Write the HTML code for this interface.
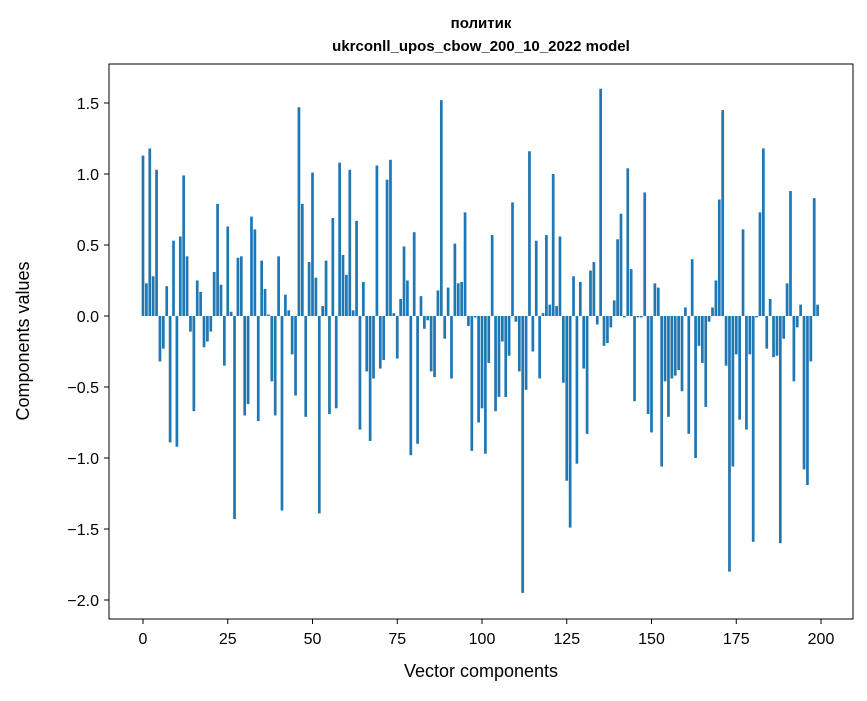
<!DOCTYPE html>
<html><head><meta charset="utf-8"><style>
body{margin:0;background:#fff;}
svg text{font-family:"Liberation Sans","DejaVu Sans",sans-serif;fill:#000;}
</style></head><body>
<svg id="chart" width="867" height="696" xmlns="http://www.w3.org/2000/svg">
<rect width="867" height="696" fill="#fff"/>
<text x="481" y="28" text-anchor="middle" font-size="15" font-weight="bold">политик</text>
<text x="481" y="51" text-anchor="middle" font-size="15" font-weight="bold">ukrconll_upos_cbow_200_10_2022 model</text>
<g id="bars"></g>
<g id="axes"></g>
<rect x="109" y="64" width="744" height="555" fill="none" stroke="#000" stroke-width="1"/>
<text x="481" y="677" text-anchor="middle" font-size="18">Vector components</text>
<text transform="translate(29,341) rotate(-90)" text-anchor="middle" font-size="18">Components values</text>
</svg>
<script>
const values = [1.13,0.23,1.18,0.28,1.03,-0.32,-0.23,0.21,-0.89,0.53,-0.92,0.56,0.99,0.42,-0.11,-0.67,0.25,0.17,-0.22,-0.18,
-0.11,0.31,0.79,0.22,-0.35,0.63,0.03,-1.43,0.41,0.42,-0.70,-0.62,0.70,0.61,-0.74,0.39,0.19,0.01,-0.46,-0.70,
0.42,-1.37,0.15,0.04,-0.27,-0.56,1.47,0.79,-0.71,0.38,1.01,0.27,-1.39,0.07,0.39,-0.69,0.69,-0.65,1.08,0.43,
0.29,1.03,0.04,0.67,-0.80,0.24,-0.39,-0.88,-0.44,1.06,-0.37,-0.31,0.96,1.10,0.02,-0.30,0.12,0.49,0.25,-0.98,
0.59,-0.90,0.14,-0.09,-0.03,-0.39,-0.43,0.18,1.52,-0.16,0.20,-0.44,0.51,0.23,0.24,0.73,-0.07,-0.95,-0.01,-0.75,
-0.65,-0.97,-0.33,0.57,-0.67,-0.57,-0.18,-0.57,-0.28,0.80,-0.04,-0.39,-1.95,-0.52,1.16,-0.25,0.53,-0.44,0.02,0.57,
0.08,1.00,0.07,0.56,-0.47,-1.16,-1.49,0.28,-1.04,0.24,-0.37,-0.83,0.32,0.38,-0.06,1.60,-0.21,-0.19,-0.08,0.11,
0.54,0.72,-0.01,1.04,0.33,-0.60,-0.01,-0.01,0.87,-0.69,-0.82,0.23,0.20,-1.06,-0.46,-0.71,-0.44,-0.42,-0.38,-0.53,
0.06,-0.83,0.40,-1.00,-0.21,-0.33,-0.64,-0.04,0.06,0.25,0.82,1.45,-0.35,-1.80,-1.06,-0.27,-0.73,0.61,-0.80,-0.27,
-1.59,-0.01,0.73,1.18,-0.23,0.12,-0.29,-0.28,-1.60,-0.16,0.23,0.88,-0.46,-0.08,0.08,-1.08,-1.19,-0.32,0.83,0.08];
const xTicks = [0,25,50,75,100,125,150,175,200];
const yTicks = [1.5,1.0,0.5,0.0,-0.5,-1.0,-1.5,-2.0];
const yTickLabels = ["1.5","1.0","0.5","0.0","\u22120.5","\u22121.0","\u22121.5","\u22122.0"];

const NS="http://www.w3.org/2000/svg";
function xs(v){return 143+(v*678/200);}
function ys(v){return 316-v*142;}
const bars=document.getElementById('bars');
values.forEach((v,i)=>{
  const r=document.createElementNS(NS,'rect');
  
  
  const x0=xs(i-0.4), x1=xs(i+0.4);
  r.setAttribute('x',x0);r.setAttribute('width',x1-x0);
  r.setAttribute('y',Math.min(ys(v),ys(0)));
  r.setAttribute('height',Math.abs(ys(v)-ys(0)));
  r.setAttribute('fill','#1f77b4');
  bars.appendChild(r);
});
const axes=document.getElementById('axes');
xTicks.forEach(t=>{
  const l=document.createElementNS(NS,'line');
  
  
  l.setAttribute('x1',xs(t));l.setAttribute('x2',xs(t));l.setAttribute('y1',619);l.setAttribute('y2',624);
  l.setAttribute('stroke','#000');axes.appendChild(l);
  const tx=document.createElementNS(NS,'text');
  
  
  tx.setAttribute('x',xs(t));tx.setAttribute('y',644);tx.setAttribute('text-anchor','middle');tx.setAttribute('font-size','16');
  tx.textContent=String(t);axes.appendChild(tx);
});
yTicks.forEach((t,i)=>{
  const l=document.createElementNS(NS,'line');
  
  
  l.setAttribute('x1',104);l.setAttribute('x2',109);l.setAttribute('y1',ys(t));l.setAttribute('y2',ys(t));
  l.setAttribute('stroke','#000');axes.appendChild(l);
  const tx=document.createElementNS(NS,'text');
  
  
  tx.setAttribute('x',99);tx.setAttribute('y',ys(t)+6);tx.setAttribute('text-anchor','end');tx.setAttribute('font-size','16');
  tx.textContent=yTickLabels[i];axes.appendChild(tx);
});
</script>
</body></html>
